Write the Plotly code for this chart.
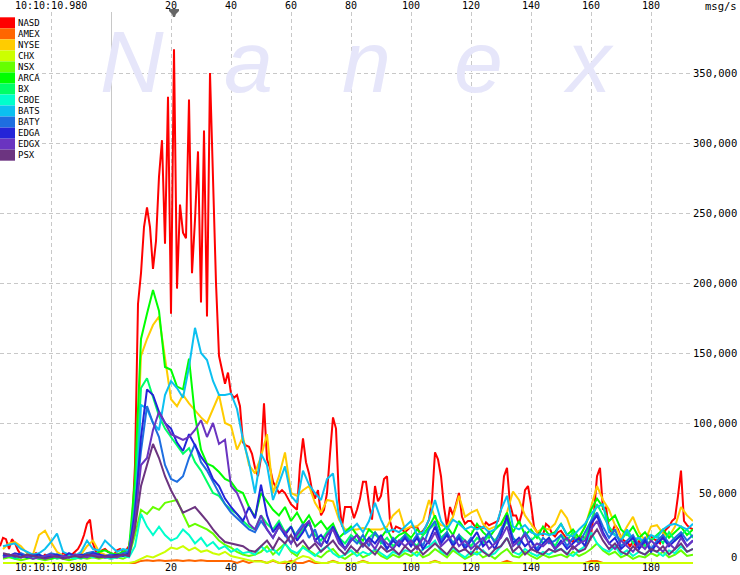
import numpy as np
import plotly.graph_objects as go

# ---------------- data (thousand msg/s) ----------------
NAMES = ["NASD", "AMEX", "NYSE", "CHX", "NSX", "ARCA", "BX", "CBOE",
         "BATS", "BATY", "EDGA", "EDGX", "PSX"]
COLORS = ["#ff0000", "#ff6600", "#ffcc00", "#ccff00", "#66ff00", "#00ff00",
          "#00ff66", "#00ffcc", "#0cc0f0", "#1e6ee0", "#2424d8", "#6a34c0",
          "#6c3480"]

# NASD sampled every 1 unit starting at -37
NASD_START = -37
NASD = [12, 18, 17, 10, 17, 14, 9, 6, 5, 4, 6, 5, 7, 5, 4, 6, 5, 4, 6, 5,
        4, 7, 6, 5, 6, 8, 10, 14, 20, 28, 31, 14, 8, 6, 9, 10, 8,
        7, 6, 9, 10, 8, 9, 12, 25, 70,
        185, 207, 240, 254, 240, 210, 230, 276, 302, 228, 333, 178, 367, 196,
        256, 236, 232, 331, 207, 245, 294, 186, 309, 176, 350, 275, 200,
        148, 138, 128, 136, 121, 118, 120, 112, 86, 84, 83, 78, 68, 62, 75,
        114, 74, 68, 58, 54, 50, 52, 50, 46, 42, 40, 38, 70, 89, 72, 64, 52,
        46, 52, 34, 38, 50, 78, 104, 96, 45, 26, 40, 40, 40, 32, 38, 46, 58,
        58, 42, 31, 55, 44, 48, 60, 62, 30, 22, 26, 25, 24, 22, 24,
        26, 25, 26, 21, 23, 26, 31, 45, 79, 74, 62, 40, 26, 40, 34, 42, 50,
        33, 28, 30, 30, 27, 25, 26, 25, 29, 27, 28, 29, 30, 38, 62, 68, 42,
        34, 34, 28, 36, 52, 55, 42, 26, 22, 21, 20, 28, 26, 21, 19, 22, 23,
        20, 17, 16, 15, 21, 16, 19, 18, 15, 20, 36, 62, 68, 38, 40, 24, 22,
        27, 24, 18, 16, 15, 12, 15, 12, 16, 12, 15, 20, 19, 17, 16, 14, 20,
        24, 26, 30, 32, 48, 66, 30, 27, 25, 24]

# other exchanges sampled every 2 units starting at -36
OTHER_START = -36
AMEX = [0, 0, 0, 0, 0, 0, 0, 0, 0, 0, 0, 0, 0, 0, 0, 0, 0, 0,
        0, 0, 0, 0, 0,
        1.5, 2, 1.5, 2, 1.5, 2, 2, 1.5, 2, 1.5, 2, 1.5, 1.5, 2, 1.5, 1.5, 0, 1.5, 0, 1.5,
        1.5, 0, 1.5, 0, 0, 1.5, 0, 0, 1.5, 0, 0, 0, 1.5, 0, 0, 0, 0, 1.5, 0, 0, 0, 0, 0, 0, 0,
        0, 0, 0, 0, 1.5, 0, 0, 0, 0, 0, 0, 0, 0, 0, 0, 0, 1.5, 0, 0, 0, 0, 0, 0, 0, 0,
        0, 0, 0, 0, 0, 1.5, 1.5, 0, 0, 0, 0, 0, 0, 0, 0, 0, 0, 0, 0, 0, 0, 0, 0]
NYSE = [10, 14, 15, 12, 7, 6, 20, 23, 15, 8, 5, 4, 5, 6, 12, 16, 8, 6,
        5, 7, 6, 8, 40,
        148, 160, 170, 176, 145, 117, 112, 120, 114, 109, 104, 100, 110, 120, 100, 98, 81, 90, 70, 64,
        76, 92, 50, 62, 79, 50, 48, 52, 55, 43, 36, 45, 44, 31, 24, 24, 24, 25, 24, 24, 24, 26, 34, 38, 24,
        26, 26, 30, 45, 32, 27, 26, 33, 48, 33, 36, 38, 28, 24, 26, 27, 36, 51, 45, 34, 28, 22, 25, 24, 28,
        38, 32, 20, 18, 26, 40, 55, 45, 38, 27, 18, 26, 33, 22, 16, 26, 27, 21, 19, 26, 40, 34, 30]
CHX = [0, 0, 0, 0, 0, 0, 0, 0, 0, 0, 0, 0, 0, 0, 0, 0, 0, 0,
       0, 0, 0, 0, 1,
       3, 5, 4, 6, 8, 11, 10, 12, 9, 11, 8, 9, 7, 6, 8, 5, 4, 3, 2, 1,
       1, 0, 2, 0, 1, 0, 3, 5, 4, 1, 0, 0, 1, 0, 0, 0, 0, 1, 0, 0, 0, 0, 0, 0, 0,
       0, 0, 0, 0, 1, 0, 0, 0, 0, 0, 0, 0, 0, 0, 0, 0, 0, 0, 0, 0, 0, 0, 0, 0, 0,
       0, 0, 0, 0, 0, 0, 0, 0, 0, 0, 0, 0, 0, 0, 0, 0, 0, 0, 0, 0, 0, 0, 0]
NSX = [3, 4, 3, 2, 3, 4, 3, 2, 3, 4, 3, 2, 3, 4, 3, 4, 3, 4,
       3, 4, 3, 5, 20,
       38, 35, 40, 38, 43, 44, 45, 35, 26, 28, 26, 24, 21, 16, 13, 11, 8, 6, 5, 6,
       8, 12, 6, 10, 14, 8, 5, 12, 9, 6, 4, 8, 10, 5, 3, 6, 8, 4, 6, 9, 5, 3, 6, 4, 7,
       5, 8, 4, 6, 10, 7, 4, 9, 6, 3, 5, 8, 4, 6, 3, 7, 10, 5, 4, 8, 5, 3, 6, 4, 5,
       6, 4, 8, 5, 7, 10, 14, 9, 6, 8, 4, 6, 3, 5, 4, 7, 5, 8, 4, 6, 9, 5, 6]
ARCA = [6, 5, 4, 5, 4, 3, 4, 5, 3, 4, 5, 4, 6, 5, 7, 6, 8, 9,
        7, 6, 8, 10, 60,
        160, 178, 195, 180, 140, 138, 126, 124, 146, 105, 81, 71, 69, 65, 60, 58, 52, 50, 40, 33,
        50, 44, 38, 34, 40, 30, 36, 28, 34, 26, 30, 24, 28, 18, 22, 26, 20, 16, 24, 20, 18, 24, 16, 20, 22,
        18, 24, 20, 26, 34, 22, 26, 20, 30, 24, 20, 28, 22, 18, 24, 28, 36, 22, 30, 20, 24, 18, 26, 20, 22,
        28, 20, 24, 18, 26, 38, 46, 40, 30, 34, 24, 20, 26, 18, 22, 16, 20, 24, 18, 22, 26, 20, 24]
BX = [4, 5, 3, 4, 5, 4, 3, 4, 5, 3, 4, 5, 4, 3, 5, 6, 5, 4,
      5, 4, 6, 8, 45,
      125, 132, 118, 105, 96, 90, 84, 78, 82, 72, 66, 58, 50, 48, 42, 38, 35, 30, 26, 24,
      34, 28, 24, 30, 22, 26, 18, 24, 28, 20, 16, 22, 26, 18, 14, 20, 16, 12, 18, 22, 14, 18, 12, 16, 20,
      16, 12, 20, 24, 28, 18, 22, 14, 20, 16, 12, 18, 14, 20, 16, 22, 30, 18, 14, 22, 16, 20, 14, 18, 12,
      20, 16, 22, 14, 18, 30, 42, 34, 26, 20, 16, 22, 14, 18, 12, 16, 20, 14, 22, 16, 20, 24, 18]
CBOE = [5, 6, 4, 5, 6, 4, 5, 3, 4, 6, 5, 4, 3, 5, 6, 4, 5, 4,
        3, 4, 5, 4, 12,
        35, 26, 20, 26, 20, 16, 18, 24, 20, 14, 18, 12, 15, 10, 12, 8, 10, 7, 8, 6,
        12, 8, 10, 6, 14, 9, 7, 11, 8, 5, 9, 12, 7, 4, 6, 9, 5, 8, 6, 10, 7, 4, 8, 6, 9,
        8, 5, 10, 12, 16, 8, 6, 11, 7, 4, 8, 6, 9, 5, 7, 12, 18, 8, 6, 10, 7, 5, 8, 6, 9,
        10, 7, 5, 9, 12, 22, 14, 10, 8, 12, 6, 9, 5, 8, 6, 10, 8, 5, 9, 7, 12, 8, 10]
BATS = [12, 13, 14, 10, 8, 6, 7, 10, 15, 21, 8, 6, 5, 8, 16, 10, 9, 16,
        12, 8, 10, 9, 30,
        113, 110, 100, 95, 120, 130, 125, 118, 140, 168, 150, 145, 130, 120, 120, 121, 110, 88, 72, 50,
        78, 70, 45, 57, 69, 48, 43, 66, 56, 50, 45, 60, 64, 33, 21, 24, 28, 22, 30, 43, 31, 22, 24, 22, 26,
        30, 20, 22, 31, 45, 30, 24, 31, 28, 24, 26, 24, 26, 22, 24, 38, 48, 26, 24, 27, 22, 20, 21, 20, 21,
        28, 20, 19, 24, 28, 35, 40, 42, 22, 20, 16, 24, 17, 18, 15, 20, 18, 24, 27, 28, 26, 24, 28]
BATY = [5, 6, 4, 7, 5, 6, 4, 5, 7, 6, 5, 4, 6, 5, 7, 8, 6, 5,
        6, 5, 7, 8, 40,
        80, 112, 100, 90, 70, 60, 58, 62, 75, 85, 72, 66, 58, 50, 42, 36, 32, 28, 24, 22,
        30, 24, 18, 26, 20, 14, 22, 28, 18, 24, 12, 20, 26, 16, 10, 18, 14, 20, 12, 22, 16, 10, 18, 14, 20,
        14, 20, 12, 24, 30, 16, 22, 14, 20, 12, 18, 10, 16, 22, 14, 24, 32, 18, 12, 22, 16, 10, 18, 14, 16,
        20, 12, 18, 14, 22, 30, 36, 26, 18, 24, 12, 16, 20, 12, 18, 10, 16, 20, 14, 18, 22, 16, 20]
EDGA = [6, 5, 7, 6, 4, 5, 6, 4, 5, 6, 4, 7, 5, 6, 5, 7, 6, 5,
        5, 6, 5, 7, 35,
        90, 124, 120, 108, 100, 96, 86, 80, 92, 84, 76, 70, 60, 55, 46, 40, 35, 30, 40, 32,
        56, 34, 22, 28, 20, 26, 16, 22, 30, 16, 20, 14, 26, 18, 10, 16, 20, 12, 18, 14, 20, 10, 16, 12, 18,
        12, 18, 10, 16, 26, 14, 20, 12, 18, 10, 16, 22, 12, 16, 10, 20, 34, 14, 18, 12, 16, 8, 14, 18, 10,
        16, 10, 14, 18, 12, 28, 34, 22, 14, 18, 10, 14, 18, 10, 16, 8, 14, 18, 12, 16, 20, 12, 16]
EDGX = [4, 5, 6, 4, 5, 3, 4, 5, 6, 4, 5, 4, 6, 5, 4, 6, 5, 4,
        5, 4, 6, 5, 30,
        70, 75, 95, 108, 100, 92, 90, 88, 90, 95, 102, 90, 100, 85, 88, 55, 50, 40, 28, 24,
        34, 24, 18, 26, 22, 14, 20, 26, 30, 16, 12, 20, 24, 14, 10, 16, 20, 12, 16, 10, 18, 14, 10, 16, 12,
        16, 10, 18, 14, 22, 12, 16, 20, 12, 16, 10, 14, 18, 10, 14, 18, 26, 12, 16, 20, 10, 14, 12, 16, 10,
        14, 18, 10, 14, 16, 24, 30, 20, 14, 10, 16, 12, 8, 14, 10, 16, 12, 8, 14, 10, 18, 12, 16]
PSX = [7, 6, 5, 4, 6, 5, 4, 3, 4, 5, 3, 4, 5, 4, 6, 5, 4, 5,
       4, 5, 6, 5, 25,
       55, 70, 85, 75, 62, 52, 44, 36, 38, 40, 35, 30, 24, 19, 15, 14, 13, 12, 9, 8,
       12, 16, 10, 18, 14, 20, 12, 16, 10, 14, 8, 12, 16, 10, 6, 12, 8, 14, 10, 6, 12, 8, 10, 6, 12,
       8, 12, 6, 10, 14, 10, 6, 12, 8, 10, 6, 12, 8, 5, 10, 12, 18, 8, 12, 6, 10, 8, 6, 10, 8,
       10, 6, 12, 8, 10, 18, 24, 16, 10, 14, 8, 6, 12, 8, 6, 10, 8, 12, 6, 10, 14, 8, 10]

SERIES = [NASD, AMEX, NYSE, CHX, NSX, ARCA, BX, CBOE, BATS, BATY, EDGA, EDGX, PSX]

X_TICKS = [-20, 20, 40, 60, 80, 100, 120, 140, 160, 180]
X_TICK_TEXT = ["10:10:10.980", "20", "40", "60", "80", "100", "120", "140", "160", "180"]
Y_TICKS = [0, 50000, 100000, 150000, 200000, 250000, 300000, 350000]
Y_TICK_TEXT = ["0", "50,000", "100,000", "150,000", "200,000", "250,000", "300,000", "350,000"]
PEAK_X = 21
WATERMARK = ["N", "a", "n", "e", "x"]

# ---------------- layout geometry (pixels) ----------------
W, H = 740, 575
ML, MR, MT, MB = 0, 47, 12, 10
PW, PH = W - ML - MR, H - MT - MB


def px_x(p):
    return (p - ML) / PW


def px_y(p):
    return (H - MB - p) / PH


fig = go.Figure()
for name, color, vals in zip(NAMES, COLORS, SERIES):
    if name == "NASD":
        xs = np.arange(NASD_START, NASD_START + len(vals))
    else:
        xs = np.arange(OTHER_START, OTHER_START + 2 * len(vals), 2)
    fig.add_trace(go.Scatter(
        x=xs, y=np.array(vals, dtype=float) * 1000, name=name, mode="lines",
        line=dict(color=color, width=2), hoverinfo="skip", showlegend=False))

GRID = "#c8c8c8"
DASH = "4px,3px"
fig.update_layout(
    width=W, height=H, margin=dict(l=ML, r=MR, t=MT, b=MB),
    paper_bgcolor="white", plot_bgcolor="white", hovermode=False,
    xaxis=dict(range=[-37, 194], tickvals=X_TICKS, showticklabels=False,
               showgrid=True, gridcolor=GRID, griddash=DASH, gridwidth=1,
               zeroline=True, zerolinecolor=GRID, zerolinewidth=1,
               showline=False, ticks="", fixedrange=True),
    yaxis=dict(range=[-1429, 393571], tickvals=Y_TICKS[1:], showticklabels=False,
               showgrid=True, gridcolor=GRID, griddash=DASH, gridwidth=1,
               zeroline=False, showline=False, ticks="", fixedrange=True),
)

ann = []
LBL = dict(family="DejaVu Sans Mono", size=10, color="black")
# watermark
for letter, cx in zip(WATERMARK, [132, 248, 366, 478, 588]):
    ann.append(dict(text=letter, xref="paper", yref="paper", x=px_x(cx), y=px_y(61),
                    xanchor="center", yanchor="middle", showarrow=False,
                    font=dict(family="Liberation Sans", size=88, color="#e6e6fa", style="italic")))
# x tick labels top & bottom
for v, t in zip(X_TICKS, X_TICK_TEXT):
    for py in (6, 567):
        ann.append(dict(text=t, xref="x", yref="paper", x=v, y=px_y(py),
                        xanchor="center", yanchor="middle", showarrow=False, font=LBL))
# y tick labels on right
for v, t in zip(Y_TICKS, Y_TICK_TEXT):
    ann.append(dict(text=t, xref="paper", yref="y", x=px_x(739), y=v,
                    xanchor="right", yanchor="middle", showarrow=False,
                    yshift=6 if v == 0 else 0,
                    font=dict(family="DejaVu Sans Mono", size=10.5, color="black")))
ann.append(dict(text="msg/s", xref="paper", yref="paper", x=px_x(739), y=px_y(6),
                xanchor="right", yanchor="middle", showarrow=False,
                font=dict(family="DejaVu Sans Mono", size=10.5, color="black")))

shapes = []
# legend background
shapes.append(dict(type="rect", xref="paper", yref="paper", x0=px_x(0), x1=px_x(37),
                   y0=px_y(162), y1=px_y(16), fillcolor="white", line=dict(width=0), layer="above"))
ROW0, ROWH = 17.3, 11.03
for i, (name, color) in enumerate(zip(NAMES, COLORS)):
    top = ROW0 + ROWH * i
    shapes.append(dict(type="rect", xref="paper", yref="paper", x0=px_x(0), x1=px_x(15),
                       y0=px_y(top + ROWH), y1=px_y(top), fillcolor=color,
                       line=dict(width=0), layer="above"))
    ann.append(dict(text=name, xref="paper", yref="paper", x=px_x(16), y=px_y(top + ROWH / 2),
                    xanchor="left", yanchor="middle", showarrow=False,
                    font=dict(family="DejaVu Sans Mono", size=9, color="black")))
# peak marker
shapes.append(dict(type="path", xref="x", xsizemode="pixel", xanchor=PEAK_X,
                   yref="paper", ysizemode="pixel", yanchor=1,
                   path="M -5,3 L 5,3 L 5,1 L 2,-2 L 1,-5 L -1,-5 L -2,-2 L -5,1 Z",
                   fillcolor="#666666", line=dict(width=0), layer="above"))

fig.update_layout(annotations=ann, shapes=shapes)
fig.write_html("out.html", config={"displayModeBar": False},
               post_script="document.body.style.margin='0';document.body.style.padding='0';")
